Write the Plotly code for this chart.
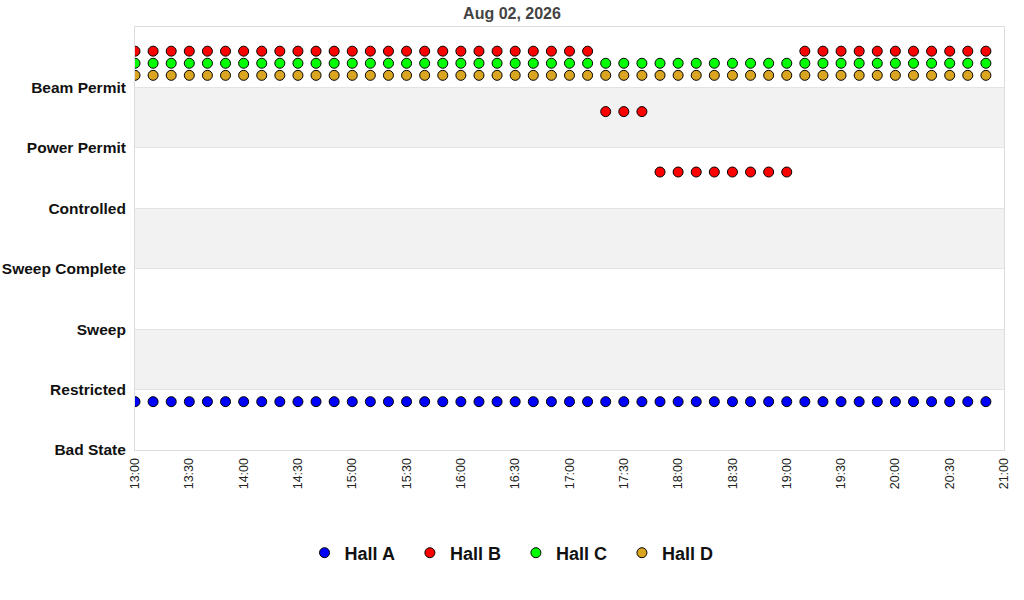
import plotly.graph_objects as go
import pandas as pd

times = pd.date_range("2026-08-02 13:00", "2026-08-02 20:50", freq="10min")
state_labels = ["Bad State", "Restricted", "Sweep", "Sweep Complete", "Controlled", "Power Permit", "Beam Permit"]

hall_a = [0] * 48
hall_b = [6] * 26 + [5] * 3 + [4] * 8 + [6] * 11
hall_c = [6] * 48
hall_d = [6] * 48

halls = [
    ("Hall A", hall_a, 0.8, "#0000FF"),
    ("Hall B", hall_b, 0.6, "#FF0000"),
    ("Hall C", hall_c, 0.4, "#00FF00"),
    ("Hall D", hall_d, 0.2, "#DAA520"),
]

fig = go.Figure()
for i, (name, vals, off, col) in enumerate(halls):
    label = name + ("\u00a0\u00a0" if i < len(halls) - 1 else "")
    fig.add_trace(go.Scatter(
        x=times, y=[v + off for v in vals], mode="markers", name=label,
        marker=dict(symbol="circle", size=10, color=col, line=dict(color="black", width=1)),
        cliponaxis=True,
    ))

for k in (1, 3, 5):
    fig.add_shape(type="rect", xref="paper", x0=0, x1=1, yref="y", y0=k, y1=k + 1,
                  fillcolor="#F2F2F2", line_width=0, layer="below")

fig.update_layout(
    width=1024, height=600,
    margin=dict(l=135, r=20, t=27, b=150, autoexpand=False),
    paper_bgcolor="white", plot_bgcolor="white",
    title=dict(text="<b>Aug 02, 2026</b>", x=0.5, xanchor="center",
               y=1 - 13 / 600, yanchor="middle",
               font=dict(family="Liberation Sans, Arial", size=16, color="#444444")),
    showlegend=True,
    legend=dict(orientation="h", x=0.4333, xanchor="center", y=-0.2435, yanchor="middle",
                font=dict(family="Liberation Sans, Arial", size=18, color="#111111", weight="bold"),
                itemwidth=30),
    font=dict(family="Liberation Sans, Arial", color="#111111"),
)
fig.update_xaxes(
    range=[pd.Timestamp("2026-08-02 13:00"), pd.Timestamp("2026-08-02 21:00")],
    tickmode="linear", tick0=pd.Timestamp("2026-08-02 13:00"), dtick=30 * 60 * 1000,
    tickformat="%H:%M", tickangle=-90, tickfont=dict(size=12.5, color="#222222"),
    showgrid=False, showline=True, linecolor="#DDDDDD", linewidth=1, mirror=True,
    zeroline=False, ticks="", ticklabelstandoff=2, automargin=False,
)
fig.update_yaxes(
    range=[0, 7], tickmode="array", tickvals=list(range(7)), ticktext=["<b>%s</b>" % s for s in state_labels],
    tickfont=dict(size=15.5, color="#111111"),
    showgrid=True, gridcolor="#E3E3E3", gridwidth=1,
    showline=True, linecolor="#DDDDDD", linewidth=1, mirror=True, zeroline=False,
    ticks="", ticklabelstandoff=5, automargin=False,
)

fig.write_html("out.html", config={"displayModeBar": False},
               post_script="document.body.style.margin='0px';")
